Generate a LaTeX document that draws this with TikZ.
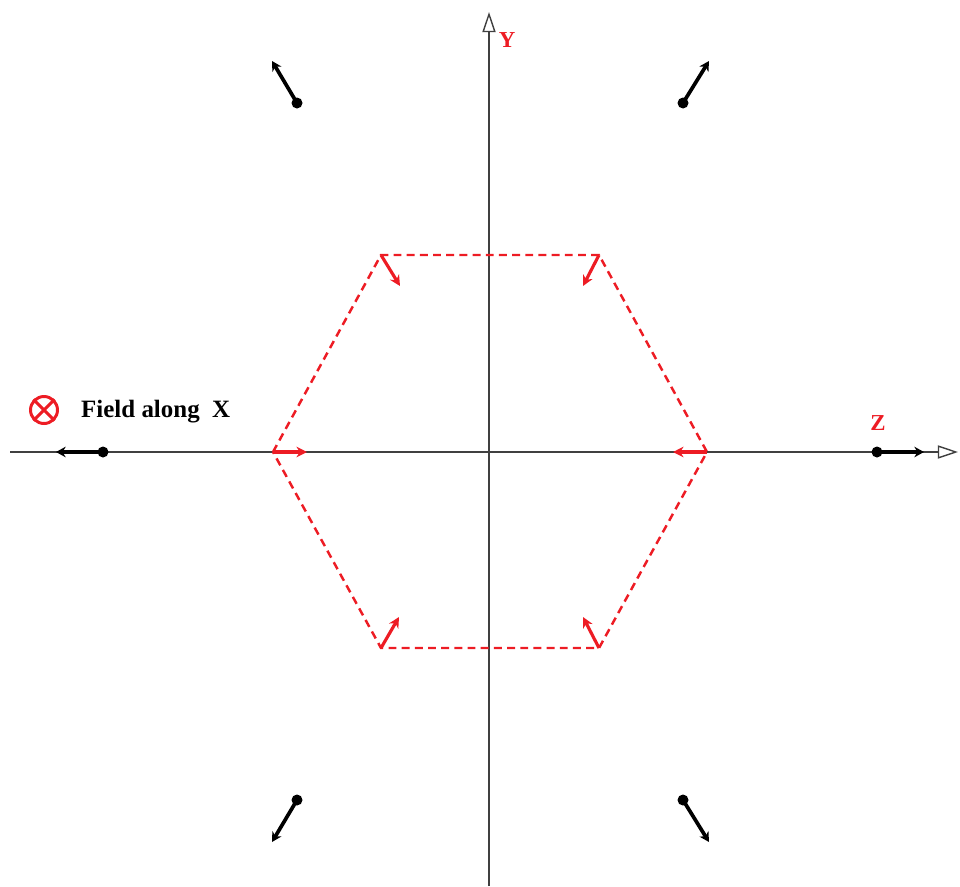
\documentclass[tikz,border=0pt]{standalone}
\usepackage{fontspec}
\setmainfont{Liberation Serif}
\usetikzlibrary{arrows.meta}
\definecolor{fieldred}{RGB}{237,28,36}
\tikzset{
    axis/.style={draw=black!75, line width=0.8pt, -{Triangle[open, length=11.5pt, width=7.5pt]}},
    dipole/.style={line width=2.1pt, -{Stealth[length=5.5pt, width=6pt]}},
    spin/.style={draw=fieldred, fill=fieldred, line width=1.8pt, -{Stealth[length=6pt, width=6pt]}},
    dot/.style={circle, fill=black, inner sep=0pt, minimum size=0.22cm},
    hexline/.style={draw=fieldred, line width=1.4pt, dash pattern=on 4.5pt off 3pt},
    lbl/.style={text=fieldred, font=\bfseries\fontsize{13}{15}\selectfont},
}
\begin{document}
\begin{tikzpicture}[x=0.02cm, y=-0.02cm]
    \useasboundingbox (0,0) rectangle (960,886);

    % Axes
    \coordinate (zl) at (10,452);
    \coordinate (zr) at (958,452);
    \coordinate (yb) at (489,886);
    \coordinate (yt) at (489,12);
    \draw[axis] (zl) -- (zr);
    \draw[axis] (yb) -- (yt);
    \node[lbl, anchor=base] (ylab) at (507,47) {Y};
    \node[lbl, anchor=base] (zlab) at (878,430) {Z};

    % Hexagon
    \coordinate (h1) at (273,452);
    \coordinate (h2) at (381,255);
    \coordinate (h3) at (599,255);
    \coordinate (h4) at (707,452);
    \coordinate (h5) at (599,648);
    \coordinate (h6) at (381,648);
    \draw[hexline] (h1) -- (h2) -- (h3) -- (h4) -- (h5) -- (h6) -- cycle;

    % Red moments on the hexagon
    \coordinate (s1) at (307,452);
    \coordinate (s2) at (400,286);
    \coordinate (s3) at (583,286);
    \coordinate (s4) at (673,452);
    \coordinate (s5) at (583,617);
    \coordinate (s6) at (399,617);
    \draw[spin] (h1) -- (s1);
    \draw[spin] (h2) -- (s2);
    \draw[spin] (h3) -- (s3);
    \draw[spin] (h4) -- (s4);
    \draw[spin] (h5) -- (s5);
    \draw[spin] (h6) -- (s6);

    % Black moments outside
    \node[dot] (d1) at (103,452) {};
    \node[dot] (d2) at (297,103) {};
    \node[dot] (d3) at (683,103) {};
    \node[dot] (d4) at (877,452) {};
    \node[dot] (d5) at (683,800) {};
    \node[dot] (d6) at (297,800) {};
    \coordinate (e1) at (56,452);
    \coordinate (e2) at (272,61);
    \coordinate (e3) at (709,61);
    \coordinate (e4) at (924,452);
    \coordinate (e5) at (709,842);
    \coordinate (e6) at (272,842);
    \draw[dipole] (d1.center) -- (e1);
    \draw[dipole] (d2.center) -- (e2);
    \draw[dipole] (d3.center) -- (e3);
    \draw[dipole] (d4.center) -- (e4);
    \draw[dipole] (d5.center) -- (e5);
    \draw[dipole] (d6.center) -- (e6);

    % Field label
    \node[circle, draw=fieldred, line width=1.7pt, minimum size=0.54cm, inner sep=0pt] (fx) at (44,410) {};
    \draw[fieldred, line width=1.7pt] (fx.north west) -- (fx.south east) (fx.north east) -- (fx.south west);
    \node[anchor=base west, font=\bfseries\fontsize{14.2}{17}\selectfont] (flab) at (75,417) {Field along\enspace X};
\end{tikzpicture}
\end{document}
